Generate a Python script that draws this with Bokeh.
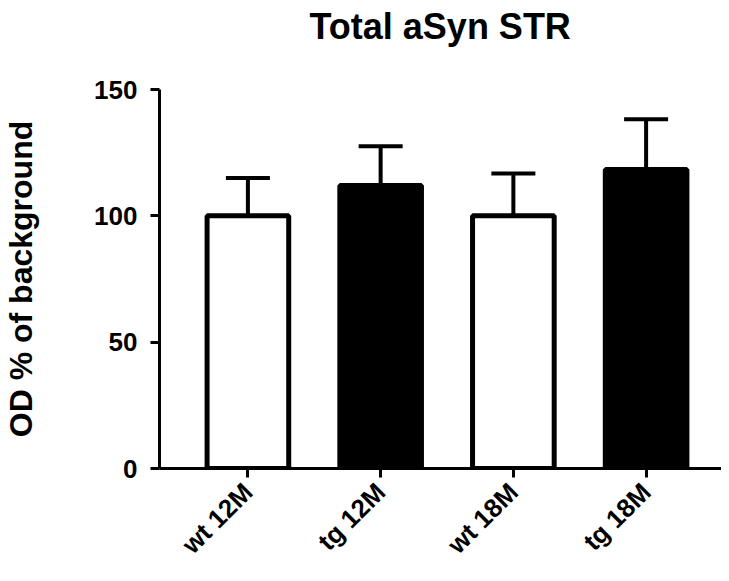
import math
from bokeh.plotting import figure
from bokeh.models import ColumnDataSource, Range1d, FixedTicker, Whisker, TeeHead, Title
from bokeh.embed import file_html
from bokeh.resources import INLINE

# Data
categories = ["wt 12M", "tg 12M", "wt 18M", "tg 18M"]
means = [100.0, 112.0, 100.0, 118.3]
sem = [15.0, 15.5, 16.8, 19.9]
fills = ["white", "black", "white", "black"]
y_ticks = [0, 50, 100, 150]
title_text = "Total aSyn STR"

xs = list(range(len(categories)))
upper = [m + s for m, s in zip(means, sem)]
src = ColumnDataSource(dict(x=xs, top=means, upper=upper, fill=fills))

FONT = "Liberation Sans"

p = figure(
    width=721, height=573,
    x_range=Range1d(-0.666, 3.568),
    y_range=Range1d(0, 150),
    output_backend="svg", toolbar_location=None,
    title=title_text,
    min_border_left=155, min_border_right=0, min_border_top=89, min_border_bottom=99,
)
p.outline_line_color = None
p.xgrid.grid_line_color = None
p.ygrid.grid_line_color = None
p.background_fill_color = "white"
p.border_fill_color = "white"

# spacer between title and plot area
p.add_layout(Title(text=" ", text_font_size="1px", standoff=40), "above")

p.title.text_font = FONT
p.title.text_font_style = "bold"
p.title.text_font_size = "36px"
p.title.text_color = "black"
p.title.align = "left"
p.title.offset = 150
p.title.standoff = 0

p.vbar(x="x", top="top", bottom=0, width=0.615, source=src,
       fill_color="fill", line_color="black", line_width=5)

w = Whisker(base="x", lower="top", upper="upper", source=src,
            line_color="black", line_width=4, lower_head=None,
            upper_head=TeeHead(size=44, line_width=4, line_color="black"))
p.add_layout(w)

for ax in (p.xaxis[0], p.yaxis[0]):
    ax.axis_line_width = 3
    ax.axis_line_color = "black"
    ax.major_tick_line_width = 3
    ax.major_tick_line_color = "black"
    ax.major_tick_in = 0
    ax.major_tick_out = 9
    ax.minor_tick_line_color = None
    ax.major_label_text_font = FONT
    ax.major_label_text_font_style = "bold"
    ax.major_label_text_color = "black"

p.yaxis[0].major_label_text_font_size = "26px"
p.yaxis[0].ticker = FixedTicker(ticks=y_ticks)
p.yaxis[0].major_label_standoff = 13
p.yaxis[0].axis_label = "OD % of background"
p.yaxis[0].axis_label_text_font = FONT
p.yaxis[0].axis_label_text_font_style = "bold"
p.yaxis[0].axis_label_text_font_size = "32px"
p.yaxis[0].axis_label_text_color = "black"
p.yaxis[0].axis_label_standoff = 52

xa = p.xaxis[0]
xa.ticker = FixedTicker(ticks=xs)
xa.major_label_overrides = {i: c for i, c in zip(xs, categories)}
xa.major_label_text_font_size = "26px"
xa.major_label_orientation = math.pi / 4
xa.major_label_standoff = 10

open("out.html", "w").write(file_html(p, INLINE))
